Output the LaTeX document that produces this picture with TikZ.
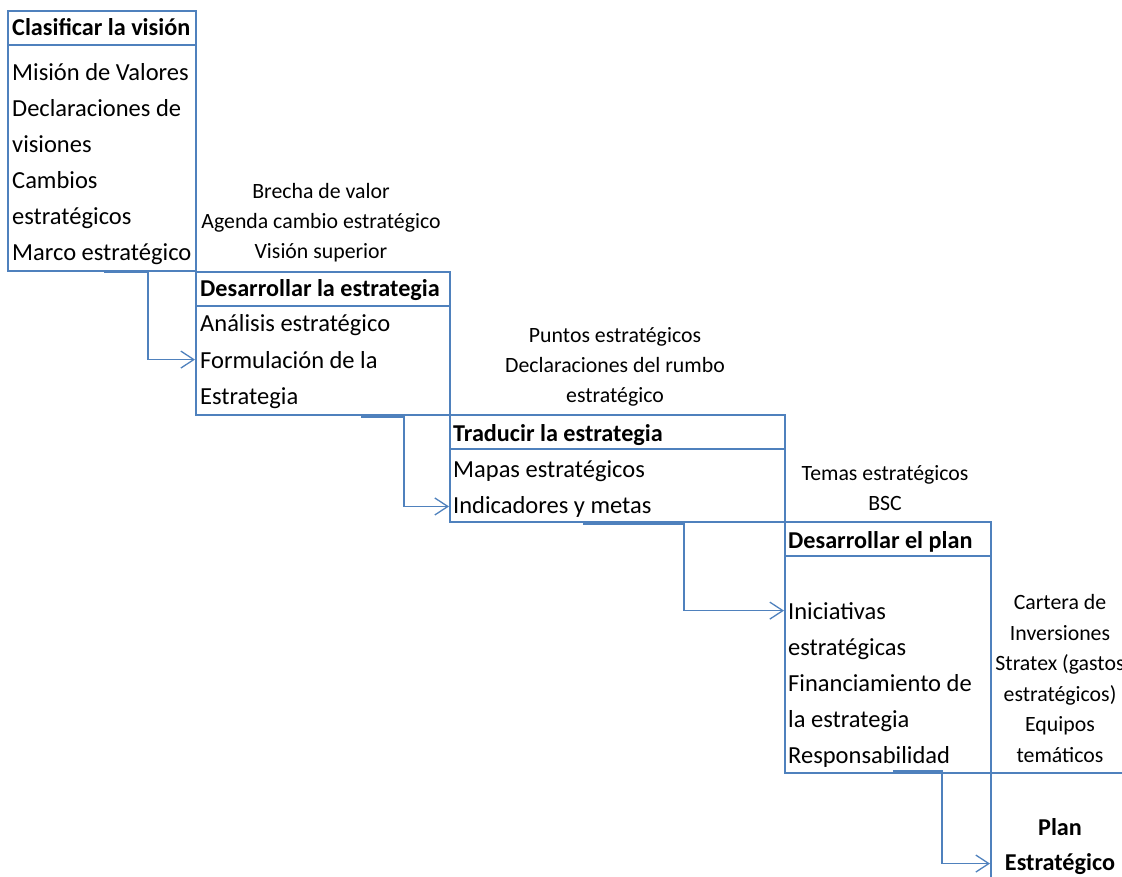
\documentclass[tikz,border=0pt]{standalone}
\usepackage{fontspec}
\setmainfont{Carlito}
\usetikzlibrary{arrows.meta}
\definecolor{lineblue}{RGB}{79,129,189}
\tikzset{
  frame/.style={draw=lineblue, line width=1.8pt, inner sep=0pt, anchor=north west},
  edge/.style={draw=lineblue, line width=1.8pt},
  head/.style={font=\fontsize{24.2}{30}\selectfont\bfseries, inner sep=0pt, anchor=base west},
  item/.style={font=\fontsize{24.5}{30}\selectfont, inner sep=0pt, anchor=base west},
  note/.style={font=\fontsize{21.8}{25}\selectfont, inner sep=0pt, anchor=base},
  conn/.style={draw=lineblue, line width=1.4pt, -{Straight Barb[length=13pt,width=17pt,line width=1.3pt]}},
}
\begin{document}
\begin{tikzpicture}[x=1pt,y=-1pt]
\useasboundingbox (0,0) rectangle (1122,877);
\clip (0,0) rectangle (1122,877);

% boxes
\node[frame, minimum width=188pt, minimum height=260pt] (vision) at (7,10) {};
\node[frame, minimum width=254pt, minimum height=143pt] (estrategia) at (195,271) {};
\node[frame, minimum width=335pt, minimum height=107pt] (traducir) at (449,414) {};
\node[frame, minimum width=206pt, minimum height=251pt] (plan) at (784,521) {};
\node[frame, minimum width=150pt, minimum height=130pt] (final) at (990,772) {};
\foreach \b/\y in {vision/45, estrategia/306, traducir/449, plan/556}
  \draw[edge] (\b.west |- 0,\y) -- (\b.east |- 0,\y);

% box texts
\node[head] (hv) at (12,36) {Clasificar la visión};
\foreach \t [count=\i] in {Misión de Valores, Declaraciones de, visiones, Cambios, estratégicos, Marco estratégico}
  \node[item] (v\i) at (12,45+36*\i) {\t};

\node[head] (he) at (200,297) {Desarrollar la estrategia};
\foreach \t [count=\i] in {Análisis estratégico, Formulación de la, Estrategia}
  \node[item] (e\i) at (200,296+36*\i) {\t};

\node[head] (ht) at (453,441) {Traducir la estrategia};
\foreach \t [count=\i] in {Mapas estratégicos, Indicadores y metas}
  \node[item] (t\i) at (453,441+36*\i) {\t};

\node[head] (hp) at (788,548) {Desarrollar el plan};
\foreach \t [count=\i] in {Iniciativas, estratégicas, Financiamiento de, la estrategia, Responsabilidad}
  \node[item] (p\i) at (788,583+36*\i) {\t};

\node[head, anchor=base] (f1) at (1060,835) {Plan};
\node[head, anchor=base] (f2) at (1060,870) {Estratégico};

% side notes
\foreach \t [count=\i] in {Brecha de valor, Agenda cambio estratégico, Visión superior}
  \node[note] (n1\i) at (321,169+30*\i) {\t};
\foreach \t [count=\i] in {Puntos estratégicos, Declaraciones del rumbo, estratégico}
  \node[note] (n2\i) at (615,312+30*\i) {\t};
\foreach \t [count=\i] in {Temas estratégicos, BSC}
  \node[note] (n3\i) at (885,450+30*\i) {\t};
\foreach \t [count=\i] in {Cartera de, Inversiones, Stratex (gastos, estratégicos), Equipos, temáticos}
  \node[note] (n4\i) at (1060,579+30.5*\i) {\t};

% connectors
\coordinate (s1) at (104,272);
\coordinate (s2) at (361,417);
\coordinate (s3) at (583,524);
\coordinate (s4) at (893,771);
\draw[conn] (s1) -- ++(44,0) |- (estrategia.west |- e2);
\draw[conn] (s2) -- ++(43,0) |- (traducir.west |- t2);
\draw[conn] (s3) -- ++(101,0) |- (plan.west |- p1);
\draw[conn] (s4) -- ++(49,0) |- (final.west |- f2);
\end{tikzpicture}
\end{document}
